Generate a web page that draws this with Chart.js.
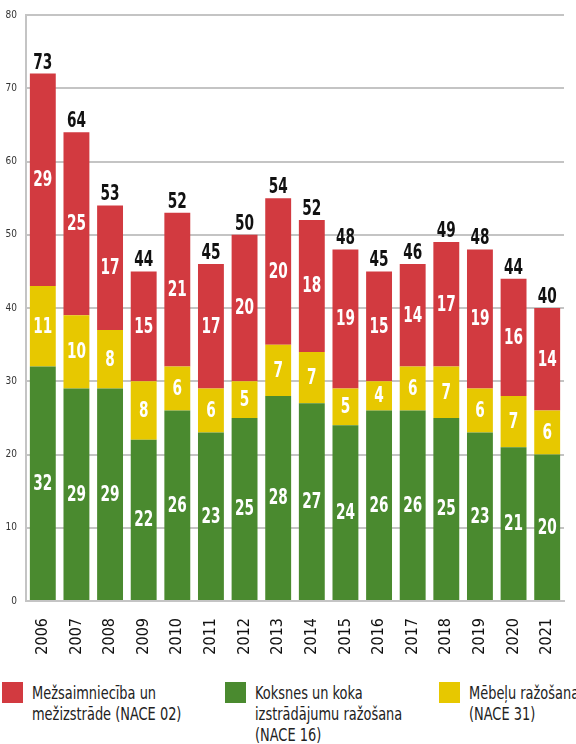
<!DOCTYPE html>
<html>
<head>
<meta charset="utf-8">
<script src="https://cdn.jsdelivr.net/npm/chart.js@4.4.0/dist/chart.umd.min.js"></script>
<style>
    body { margin: 0; background: #fff; }
    #wrap { position: relative; width: 576px; height: 744px; }
    #chart { position: absolute; left: 0; top: 0; }
    .legend-item { position: absolute; top: 682px; font-family: "DejaVu Sans Condensed", "DejaVu Sans", sans-serif; font-stretch: condensed; font-size: 18px; line-height: 21px; color: #222; }
    .legend-item .box { position: absolute; left: 0; top: 0; width: 21px; height: 21px; }
    .legend-item .txt { position: absolute; left: 30px; top: 0; white-space: nowrap; transform: scaleX(0.8); transform-origin: 0 0; }
</style>
</head>
<body>
<div id="wrap">
    <canvas id="chart" width="576" height="660"></canvas>
    <div class="legend-item" style="left:2px"><div class="box" style="background:#d23a40"></div><div class="txt">Mežsaimniecība un<br>mežizstrāde (NACE 02)</div></div>
    <div class="legend-item" style="left:225px"><div class="box" style="background:#4a8a2f"></div><div class="txt">Koksnes un koka<br>izstrādājumu ražošana<br>(NACE 16)</div></div>
    <div class="legend-item" style="left:439px"><div class="box" style="background:#e7c800"></div><div class="txt">Mēbeļu ražošana<br>(NACE 31)</div></div>
</div>
<script>
// Data
const years = ['2006', '2007', '2008', '2009', '2010', '2011', '2012', '2013', '2014', '2015', '2016', '2017', '2018', '2019', '2020', '2021'];
const wood = [32, 29, 29, 22, 26, 23, 25, 28, 27, 24, 26, 26, 25, 23, 21, 20];
const furniture = [11, 10, 8, 8, 6, 6, 5, 7, 7, 5, 4, 6, 7, 6, 7, 6];
const forestry = [29, 25, 17, 15, 21, 17, 20, 20, 18, 19, 15, 14, 17, 19, 16, 14];
const totals = [73, 64, 53, 44, 52, 45, 50, 54, 52, 48, 45, 46, 49, 48, 44, 40];

const FONT = '"DejaVu Sans Condensed", "DejaVu Sans", sans-serif';

// narrow, tall text like the original display font
function drawNarrow(ctx, text, x, y) {
    ctx.save();
    ctx.translate(x, y);
    ctx.scale(0.8, 1.1);
    ctx.fillText(text, 0, 0);
    ctx.restore();
}

// Draws segment values inside bars and totals above
const valueLabels = {
    id: 'valueLabels',
    afterDatasetsDraw(chart) {
        const ctx = chart.ctx;
        ctx.save();
        ctx.textAlign = 'center';
        ctx.textBaseline = 'middle';
        ctx.font = 'condensed bold 19px ' + FONT;
        ctx.fillStyle = '#fff';
        chart.data.datasets.forEach((ds, i) => {
            chart.getDatasetMeta(i).data.forEach((el, j) => {
                drawNarrow(ctx, ds.data[j], el.x, (el.y + el.base) / 2 + 1);
            });
        });
        const top = chart.getDatasetMeta(chart.data.datasets.length - 1).data;
        ctx.fillStyle = '#111';
        ctx.textBaseline = 'alphabetic';
        top.forEach((el, i) => {
            drawNarrow(ctx, totals[i], el.x, el.y - 5);
        });
        ctx.restore();
    }
};

new Chart(document.getElementById('chart'), {
    type: 'bar',
    data: {
        labels: years,
        datasets: [
            { label: 'Koksnes un koka izstrādājumu ražošana (NACE 16)', data: wood, backgroundColor: '#4a8a2f' },
            { label: 'Mēbeļu ražošana (NACE 31)', data: furniture, backgroundColor: '#e7c800' },
            { label: 'Mežsaimniecība un mežizstrāde (NACE 02)', data: forestry, backgroundColor: '#d23a40' }
        ]
    },
    options: {
        responsive: false,
        animation: false,
        datasets: { bar: { barPercentage: 0.77, categoryPercentage: 1 } },
        layout: { padding: { top: 14, right: 12, left: 0, bottom: 0 } },
        plugins: { legend: { display: false }, tooltip: { enabled: false } },
        scales: {
            x: {
                stacked: true,
                afterFit: s => { s.height = 59; },
                grid: { display: false },
                border: { color: '#c4c4c4', width: 2 },
                ticks: { minRotation: 90, maxRotation: 90, padding: 9, color: '#111', font: { family: FONT, size: 16, style: 'condensed' } }
            },
            y: {
                stacked: true,
                min: 0,
                max: 80,
                afterFit: s => { s.width = 26; },
                grid: { color: '#c4c4c4', lineWidth: 2, drawTicks: false },
                border: { color: '#c4c4c4', width: 2 },
                ticks: { stepSize: 10, padding: 9, color: '#333', font: { family: FONT, size: 10, style: 'condensed' } }
            }
        }
    },
    plugins: [valueLabels]
});
</script>
</body>
</html>
